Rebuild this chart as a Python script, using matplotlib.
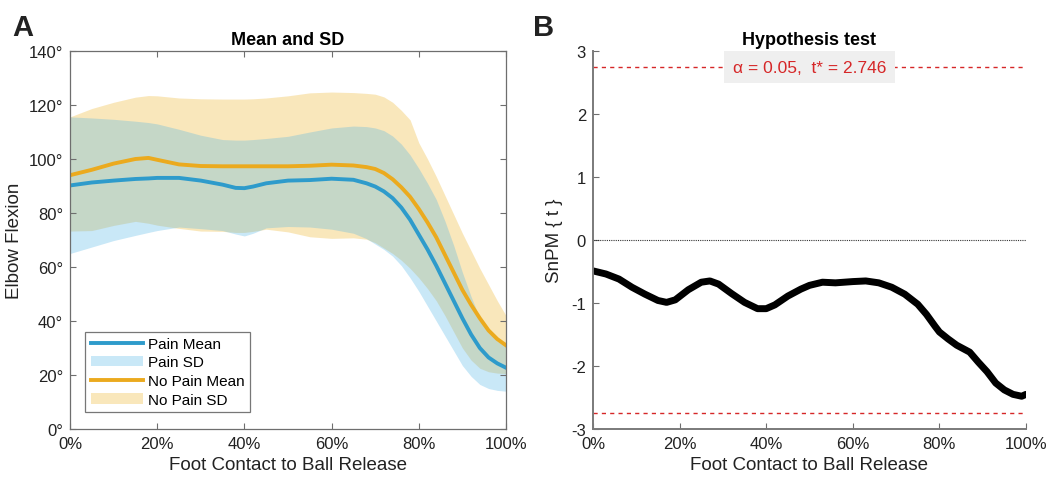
import matplotlib
matplotlib.use("Agg")
import matplotlib.pyplot as plt
import numpy as np

plt.rcParams['font.family'] = ['Liberation Sans', 'DejaVu Sans']
plt.rcParams['axes.unicode_minus'] = False

# ---- Data ----
pct = [0, 5, 10, 15, 18, 20, 25, 30, 35, 38, 40, 42, 45, 50, 55, 60, 65, 68, 70, 72, 74, 76, 78, 80,
       82, 84, 86, 88, 90, 92, 94, 96, 98, 100]

pain_mean = [90.2, 91.3, 92.0, 92.6, 92.8, 93.0, 93.0, 92.0, 90.5, 89.3, 89.2, 89.8, 91.0, 92.0, 92.2, 92.7, 92.3, 91.0, 89.8, 88.0,
             85.5, 82.0, 77.5, 72.0, 66.5, 60.5, 54.0, 47.5, 41.0, 35.0, 30.0, 26.5, 24.3, 22.7]
nopain_mean = [94.0, 96.0, 98.3, 100.0, 100.4, 99.7, 98.0, 97.4, 97.3, 97.3, 97.3, 97.3, 97.3, 97.3, 97.5, 97.9, 97.6, 97.0, 96.3, 94.8,
               92.5, 89.5, 86.0, 81.5, 76.5, 71.0, 64.5, 58.0, 51.5, 46.0, 41.0, 36.5, 33.3, 31.0]

pain_upper = [115.6, 115.2, 114.7, 114.0, 113.5, 113.0, 111.0, 108.8, 107.2, 107.0, 107.0, 107.2, 107.6, 108.4, 110.0, 111.5, 112.2, 112.0, 111.5, 110.5,
              108.5, 105.5, 101.5, 96.5, 91.0, 85.0, 77.0, 68.0, 58.0, 49.0, 41.0, 36.0, 32.5, 30.5]
pain_lower = [65.0, 67.4, 69.8, 71.7, 72.8, 73.5, 74.8, 74.2, 73.5, 72.2, 71.5, 72.5, 74.5, 75.0, 74.8, 74.0, 72.5, 70.5, 68.5, 66.5,
              64.0, 60.5, 56.0, 51.0, 45.5, 40.0, 34.5, 29.0, 23.5, 19.5, 16.5, 15.0, 14.3, 14.0]
nopain_upper = [115.6, 118.7, 121.0, 122.9, 123.5, 123.4, 122.6, 122.3, 122.2, 122.2, 122.2, 122.3, 122.6, 123.4, 124.5, 124.8, 124.6, 124.3, 124.0, 123.0,
                121.0, 118.0, 114.5, 106.0, 100.0, 93.5, 86.5, 79.5, 72.5, 66.0, 59.5, 53.5, 47.5, 42.0]
nopain_lower = [73.3, 73.5, 75.4, 76.9, 76.2, 75.5, 74.3, 73.3, 73.2, 72.8, 72.8, 73.2, 74.0, 73.0, 71.2, 70.6, 70.8, 70.3, 69.0, 67.0,
                65.0, 62.5, 59.5, 56.0, 52.0, 47.5, 42.0, 36.0, 30.0, 25.5, 22.5, 21.2, 20.7, 20.5]

spm_x = [0, 3, 6, 9, 12, 15, 17, 19, 22, 25, 27, 29, 32, 35, 38, 40, 42, 45, 48, 50, 53, 56, 60, 63, 66,
         69, 72, 75, 77, 79, 80, 82, 84, 87, 89, 91, 93, 95, 97, 99, 100]
spm_t = [-0.49, -0.54, -0.62, -0.75, -0.86, -0.96, -0.99, -0.95, -0.79, -0.67, -0.65, -0.70, -0.85, -0.99, -1.09, -1.09, -1.03, -0.89, -0.78, -0.72, -0.67, -0.68, -0.66, -0.65, -0.68,
         -0.75, -0.86, -1.02, -1.18, -1.37, -1.46, -1.57, -1.67, -1.78, -1.94, -2.09, -2.27, -2.38, -2.45, -2.48, -2.45]
t_crit = 2.746
alpha_level = 0.05

x_ticks = [0, 20, 40, 60, 80, 100]
x_ticklabels = ['0%', '20%', '40%', '60%', '80%', '100%']
y_ticks_a = [0, 20, 40, 60, 80, 100, 120, 140]
y_ticklabels_a = [f'{v}°' for v in y_ticks_a]
y_ticks_b = [-3, -2, -1, 0, 1, 2, 3]

# ---- Styling ----
blue = '#2E9BCB'
orange = '#EBAA1E'
blue_fill = '#4DB3E6'
orange_fill = '#EDB120'
spine_col = '#6E6E6E'
txt = '#222222'

fig = plt.figure(figsize=(10.63, 4.81), dpi=100)
axA = fig.add_axes([70/1063, 51/481, 436/1063, 378/481])
axB = fig.add_axes([593/1063, 51/481, 433/1063, 378/481])

# Panel A
fo = axA.fill_between(pct, nopain_lower, nopain_upper, color=orange_fill, alpha=0.3, lw=0)
fb = axA.fill_between(pct, pain_lower, pain_upper, color=blue_fill, alpha=0.3, lw=0)
lb, = axA.plot(pct, pain_mean, color=blue, lw=2.8, solid_joinstyle='round')
lo, = axA.plot(pct, nopain_mean, color=orange, lw=2.8, solid_joinstyle='round')
axA.set_xlim(0, 100)
axA.set_ylim(0, 140)
axA.set_xticks(x_ticks)
axA.set_xticklabels(x_ticklabels)
axA.set_yticks(y_ticks_a)
axA.set_yticklabels(y_ticklabels_a)
axA.tick_params(direction='in', top=True, right=True, labelsize=12, length=4, color=spine_col, pad=5, labelcolor=txt)
for s in axA.spines.values():
    s.set_color(spine_col)
    s.set_linewidth(0.9)
axA.set_title('Mean and SD', fontsize=13, fontweight='bold', pad=5)
axA.set_xlabel('Foot Contact to Ball Release', fontsize=13.5, color=txt, labelpad=4)
axA.set_ylabel('Elbow Flexion', fontsize=13.5, color=txt, labelpad=4)
leg = axA.legend([lb, fb, lo, fo], ['Pain Mean', 'Pain SD', 'No Pain Mean', 'No Pain SD'],
                 loc='lower left', bbox_to_anchor=(0.035, 0.045), fontsize=11, frameon=True,
                 fancybox=False, edgecolor='#555555', handlelength=3.4, handletextpad=0.35,
                 labelspacing=0.3, borderpad=0.35, borderaxespad=0)
leg.get_frame().set_linewidth(0.9)

# Panel B
axB.axhline(0, color='#333333', lw=0.8, ls=(0, (1, 1)))
axB.axhline(t_crit, color='#D62728', lw=1.0, ls=(0, (3, 3)))
axB.axhline(-t_crit, color='#D62728', lw=1.0, ls=(0, (3, 3)))
axB.plot(spm_x, spm_t, color='black', lw=5, solid_capstyle='round', solid_joinstyle='round')
axB.set_xlim(0, 100)
axB.set_ylim(-3, 3)
axB.set_xticks(x_ticks)
axB.set_xticklabels(x_ticklabels)
axB.set_yticks(y_ticks_b)
axB.tick_params(direction='in', labelsize=12, length=4, color=spine_col, pad=5, labelcolor=txt)
for side in ['top', 'right']:
    axB.spines[side].set_visible(False)
for side in ['left', 'bottom']:
    axB.spines[side].set_color('#7A7A7A')
    axB.spines[side].set_linewidth(1.4)
axB.set_title('Hypothesis test', fontsize=13, fontweight='bold', pad=5)
axB.set_xlabel('Foot Contact to Ball Release', fontsize=13.5, color=txt, labelpad=4)
axB.set_ylabel('SnPM { t }', fontsize=13.5, color=txt, labelpad=6)
axB.text(50, t_crit, f'α = {alpha_level},  t* = {t_crit}', color='#D62728', fontsize=12.5,
         ha='center', va='center',
         bbox=dict(boxstyle='square,pad=0.5', facecolor='#EFEFEF', edgecolor='none'))

fig.text(12/1063, 1 - 28/481, 'A', fontsize=21, fontweight='bold', va='center', ha='left', color=txt)
fig.text(533/1063, 1 - 28/481, 'B', fontsize=21, fontweight='bold', va='center', ha='left', color=txt)

fig.savefig('out.png', dpi=100)
